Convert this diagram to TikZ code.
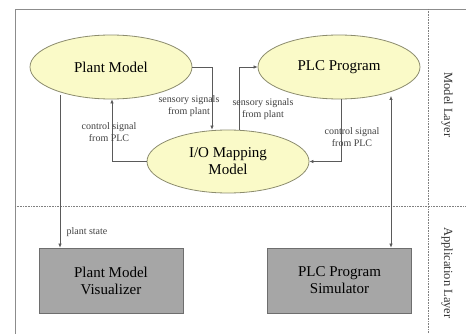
\documentclass[tikz,border=0pt]{standalone}
\usepackage{fontspec}
\setmainfont{Liberation Serif}
\usetikzlibrary{arrows.meta, positioning, shapes.geometric}

\definecolor{modelfill}{RGB}{250,250,200}
\definecolor{modeldraw}{RGB}{140,140,110}
\definecolor{appfill}{RGB}{166,166,166}
\definecolor{appdraw}{RGB}{110,110,110}
\definecolor{wire}{RGB}{90,90,90}

\begin{document}
\begin{tikzpicture}[
    x=1pt, y=-1pt,
    model_style/.style={ellipse, fill=modelfill, draw=modeldraw, thick, minimum width=162pt, minimum height=64pt, inner sep=0pt, align=center, font=\fontsize{15}{17}\selectfont},
    app_style/.style={rectangle, fill=appfill, draw=appdraw, thick, minimum width=144pt, minimum height=65pt, align=center, font=\fontsize{15}{17}\selectfont},
    signal_style/.style={-{Latex[length=4pt,width=3.5pt]}, wire, semithick},
    label_style/.style={font=\fontsize{10}{12.5}\selectfont, align=center, text=black!75},
    layer_style/.style={font=\fontsize{12.5}{14}\selectfont, rotate=-90, text=black!80},
    frame_style/.style={black!45, thick},
    sep_style/.style={black!50, densely dotted, semithick}
]

    \useasboundingbox (0,0) rectangle (466,334);

    % Frame and layer separators
    \draw[frame_style] (15,334) -- (15,9) -- (466,9);
    \draw[sep_style] (15,206) -- (466,206);
    \draw[sep_style] (428,9) -- (428,334);

    % Layer names
    \node[layer_style] (model_layer) at (447,105) {Model Layer};
    \node[layer_style] (app_layer) at (447,273) {Application Layer};

    % Model layer
    \node[model_style] (plant_model) at (111,67) {Plant Model};
    \node[model_style] (plc_program) at (339,67) {PLC Program};
    \node[model_style, minimum height=63pt] (io_mapping) at (228,161.5) {I/O Mapping\\Model};

    % Application layer
    \node[app_style] (visualizer) at (111,280.5) {Plant Model\\Visualizer};
    \node[app_style] (simulator) at (339.5,280.5) {PLC Program\\Simulator};

    % Signals between the models
    \draw[signal_style] (plant_model.east) -| (212,0 |- io_mapping.north);
    \node[label_style] (sensory_a) at (189,106) {sensory signals\\from plant};
    \draw[signal_style] (239,0 |- io_mapping.north) |- (plc_program.west);
    \node[label_style] (sensory_b) at (263,109) {sensory signals\\from plant};
    \draw[signal_style] (341,0 |- plc_program.south) |- (io_mapping.east);
    \node[label_style] (control_b) at (352,137) {control signal\\from PLC};
    \draw[signal_style] (io_mapping.west) -| (112,0 |- plant_model.south);
    \node[label_style] (control_a) at (109,132) {control signal\\from PLC};

    % Into the application layer
    \draw[signal_style] (60,95) -- (60,0 |- visualizer.north);
    \node[label_style, anchor=west] (plant_state) at (63,232) {plant state};
    \draw[signal_style, {Latex[length=4pt,width=3.5pt]}-{Latex[length=4pt,width=3.5pt]}] (391,96) -- (391,0 |- simulator.north);

\end{tikzpicture}
\end{document}
